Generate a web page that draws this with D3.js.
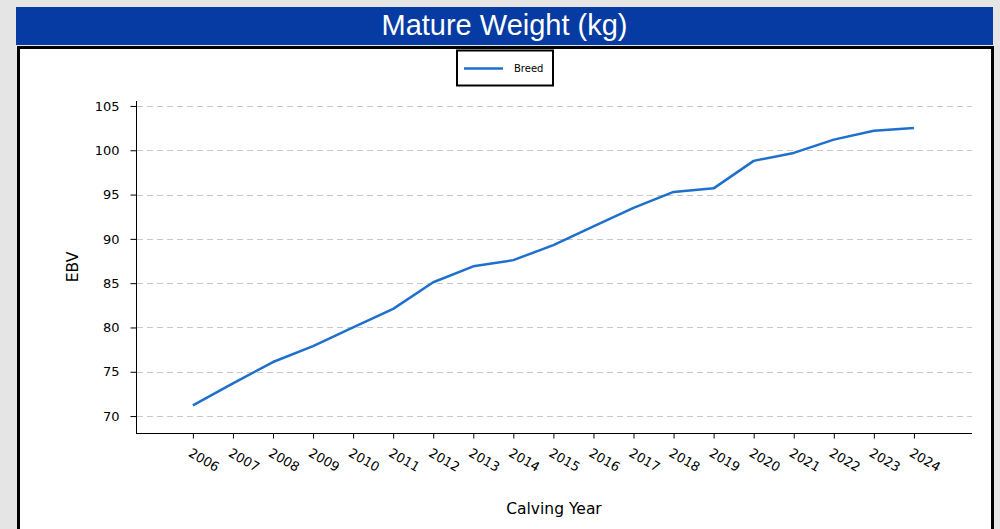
<!DOCTYPE html>
<html><head><meta charset="utf-8">
<script src="https://cdn.jsdelivr.net/npm/d3@7"></script>
<style>body{margin:0;background:#e5e5e5;overflow:hidden}</style>
</head><body>
<svg id="c" width="1000" height="529"></svg>
<script>
const years = [2006,2007,2008,2009,2010,2011,2012,2013,2014,2015,2016,2017,2018,2019,2020,2021,2022,2023,2024];
const breedValues = [71.2,73.7,76.1,77.9,80.0,82.1,85.1,86.9,87.6,89.3,91.4,93.5,95.3,95.7,98.8,99.7,101.2,102.2,102.5];
const yTicks = [70,75,80,85,90,95,100,105];
const seriesName = "Breed";
const titleText = "Mature Weight (kg)";

const svg = d3.select("#c");
svg.append("rect").attr("x",0).attr("y",0).attr("width",1000).attr("height",529).attr("fill","#e5e5e5");
svg.append("rect").attr("x",16).attr("y",7).attr("width",977).attr("height",38).attr("fill","#053ba3");
svg.append("text").attr("x",504.5).attr("y",35).attr("text-anchor","middle")
  .attr("font-family","Liberation Sans, Arial, sans-serif").attr("font-size",29).attr("fill","#fff").text(titleText);
svg.append("rect").attr("x",18.5).attr("y",47.5).attr("width",974).attr("height",500)
  .attr("fill","#fff").attr("stroke","#000").attr("stroke-width",3);

const x = d3.scaleLinear().domain([2004.58,2025.45]).range([136,972]);
const y = d3.scaleLinear().domain([68.09,105.56]).range([433,101]);

const font = "DejaVu Sans, sans-serif";
// grid
svg.append("g").selectAll("line").data(yTicks).join("line")
  .attr("x1",137).attr("x2",972).attr("y1",d=>Math.round(y(d))+0.5).attr("y2",d=>Math.round(y(d))+0.5)
  .attr("stroke","#c8c8c8").attr("stroke-width",1).attr("stroke-dasharray","6,4");

// y axis
const ya = svg.append("g").attr("transform","translate(136.5,0)")
  .call(d3.axisLeft(y).tickValues(yTicks).tickSize(6).tickPadding(11).tickFormat(d3.format("d")));
ya.select(".domain").attr("stroke","#000").attr("d","M0,101V433.5");
ya.selectAll("text").attr("font-family",font).attr("font-size",13).attr("fill","#000");
ya.selectAll("line").attr("stroke","#000");

// x axis
const xa = svg.append("g").attr("transform","translate(0,433.5)")
  .call(d3.axisBottom(x).tickValues(years).tickSize(5).tickFormat(d3.format("d")));
xa.select(".domain").attr("stroke","#000").attr("d","M136,0H972");
xa.selectAll("line").attr("stroke","#000");
xa.selectAll("text").attr("font-family",font).attr("font-size",13).attr("fill","#000")
  .attr("text-anchor","start").attr("dy",null).attr("y",0)
  .attr("transform","translate(-6,22) rotate(30)");

// labels
svg.append("text").attr("x",554).attr("y",514).attr("text-anchor","middle")
  .attr("font-family",font).attr("font-size",15.5).text("Calving Year");
svg.append("text").attr("transform","translate(78,267) rotate(-90)").attr("text-anchor","middle")
  .attr("font-family",font).attr("font-size",15.5).text("EBV");

// line
const line = d3.line().x((d,i)=>x(years[i])).y(d=>y(d));
svg.append("path").datum(breedValues).attr("d",line).attr("fill","none")
  .attr("stroke","#1f6fcc").attr("stroke-width",2.5).attr("stroke-linejoin","round");

// legend
svg.append("rect").attr("x",457).attr("y",50.5).attr("width",96).attr("height",35)
  .attr("fill","#fff").attr("stroke","#000").attr("stroke-width",2);
svg.append("line").attr("x1",464).attr("x2",503).attr("y1",68.5).attr("y2",68.5)
  .attr("stroke","#1f6fcc").attr("stroke-width",2.5);
svg.append("text").attr("x",514).attr("y",72).attr("font-family",font).attr("font-size",10).text(seriesName);
</script>
</body></html>
